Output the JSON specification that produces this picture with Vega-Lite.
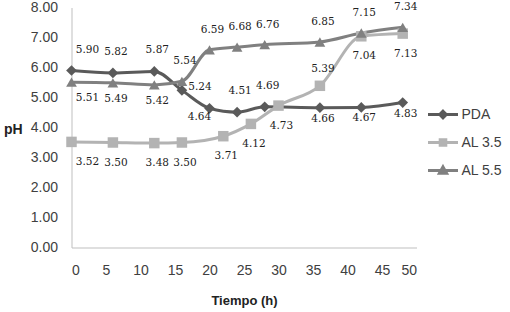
{
  "$schema": "https://vega.github.io/schema/vega-lite/v6.json",
  "width": 345,
  "height": 240,
  "autosize": {"type": "none"},
  "padding": {"left": 71.5, "top": 7.5, "right": 93.5, "bottom": 64.5},
  "background": "white",
  "config": {"view": {"stroke": null}, "font": "Liberation Sans"},
  "data": {
    "values": [
      {"t": 0, "pH": 5.90, "serie": "PDA"},
      {"t": 6, "pH": 5.82, "serie": "PDA"},
      {"t": 12, "pH": 5.87, "serie": "PDA"},
      {"t": 16, "pH": 5.24, "serie": "PDA"},
      {"t": 20, "pH": 4.64, "serie": "PDA"},
      {"t": 24, "pH": 4.51, "serie": "PDA"},
      {"t": 28, "pH": 4.69, "serie": "PDA"},
      {"t": 36, "pH": 4.66, "serie": "PDA"},
      {"t": 42, "pH": 4.67, "serie": "PDA"},
      {"t": 48, "pH": 4.83, "serie": "PDA"},
      {"t": 0, "pH": 3.52, "serie": "AL 3.5"},
      {"t": 6, "pH": 3.50, "serie": "AL 3.5"},
      {"t": 12, "pH": 3.48, "serie": "AL 3.5"},
      {"t": 16, "pH": 3.50, "serie": "AL 3.5"},
      {"t": 22, "pH": 3.71, "serie": "AL 3.5"},
      {"t": 26, "pH": 4.12, "serie": "AL 3.5"},
      {"t": 30, "pH": 4.73, "serie": "AL 3.5"},
      {"t": 36, "pH": 5.39, "serie": "AL 3.5"},
      {"t": 42, "pH": 7.04, "serie": "AL 3.5"},
      {"t": 48, "pH": 7.13, "serie": "AL 3.5"},
      {"t": 0, "pH": 5.51, "serie": "AL 5.5"},
      {"t": 6, "pH": 5.49, "serie": "AL 5.5"},
      {"t": 12, "pH": 5.42, "serie": "AL 5.5"},
      {"t": 16, "pH": 5.54, "serie": "AL 5.5"},
      {"t": 20, "pH": 6.59, "serie": "AL 5.5"},
      {"t": 24, "pH": 6.68, "serie": "AL 5.5"},
      {"t": 28, "pH": 6.76, "serie": "AL 5.5"},
      {"t": 36, "pH": 6.85, "serie": "AL 5.5"},
      {"t": 42, "pH": 7.15, "serie": "AL 5.5"},
      {"t": 48, "pH": 7.34, "serie": "AL 5.5"}
    ]
  },
  "encoding": {
    "x": {
      "field": "t", "type": "quantitative",
      "scale": {"domain": [0, 50], "nice": false},
      "axis": {
        "values": [0, 5, 10, 15, 20, 25, 30, 35, 40, 45, 50],
        "grid": false, "ticks": false, "domainColor": "#bfbfbf", "domainWidth": 1,
        "labelFont": "Liberation Sans", "labelFontSize": 14, "labelColor": "#404040", "labelPadding": 16,
        "title": "Tiempo (h)", "titleFont": "Liberation Sans", "titleFontSize": 13, "titleFontWeight": "bold", "titleColor": "#222222",
        "titleY": 52.5, "titleBaseline": "middle"
      }
    },
    "y": {
      "field": "pH", "type": "quantitative",
      "scale": {"domain": [0, 8], "nice": false},
      "axis": {
        "values": [0, 1, 2, 3, 4, 5, 6, 7, 8], "format": ".2f",
        "grid": false, "ticks": false, "domainColor": "#bfbfbf", "domainWidth": 1,
        "labelFont": "Liberation Sans", "labelFontSize": 14, "labelColor": "#404040", "labelPadding": 14,
        "title": "pH", "titleAngle": 0, "titleFont": "Liberation Sans", "titleFontSize": 14, "titleFontWeight": "bold", "titleColor": "#222222",
        "titleX": -68, "titleY": 121.5, "titleAlign": "left", "titleBaseline": "middle"
      }
    },
    "color": {
      "field": "serie", "type": "nominal",
      "scale": {"domain": ["PDA", "AL 3.5", "AL 5.5"], "range": ["#5a5a5a", "#b3b3b3", "#808080"]},
      "legend": {
        "title": null, "orient": "none", "legendX": 360, "legendY": 95.5, "padding": 0,
        "symbolSize": 400, "rowPadding": 7, "labelOffset": 7, "symbolOpacity": 1, "symbolStrokeWidth": 3,
        "labelFont": "Liberation Sans", "labelFontSize": 14, "labelColor": "#404040"
      }
    }
  },
  "layer": [
    {
      "mark": {"type": "line", "interpolate": "monotone", "strokeWidth": 3}
    },
    {
      "mark": {"type": "point", "filled": false, "opacity": 0, "size": 10},
      "encoding": {
        "shape": {
          "field": "serie", "type": "nominal",
          "scale": {
            "domain": ["PDA", "AL 3.5", "AL 5.5"],
            "range": [
              "M-1.5,0H1.5M0,-0.33L0.33,0L0,0.33L-0.33,0Z",
              "M-1.5,0H1.5M-0.28,-0.28H0.28V0.28H-0.28Z",
              "M-1.5,0H1.5M0,-0.36L0.36,0.28H-0.36Z"
            ]
          },
          "legend": {
            "title": null, "orient": "none", "legendX": 360, "legendY": 95.5, "padding": 0,
            "symbolSize": 400, "rowPadding": 7, "labelOffset": 7, "symbolOpacity": 1, "symbolStrokeWidth": 3,
            "labelFont": "Liberation Sans", "labelFontSize": 14, "labelColor": "#404040"
          }
        }
      }
    },
    {
      "transform": [{"filter": {"field": "serie", "equal": "PDA"}}],
      "mark": {"type": "point", "shape": "diamond", "filled": true, "opacity": 1, "size": 115}
    },
    {
      "transform": [{"filter": {"field": "serie", "equal": "AL 3.5"}}],
      "mark": {"type": "point", "shape": "square", "filled": true, "opacity": 1, "size": 110}
    },
    {
      "transform": [{"filter": {"field": "serie", "equal": "AL 5.5"}}],
      "mark": {"type": "point", "shape": "triangle-up", "filled": true, "opacity": 1, "size": 115}
    },
    {
      "mark": {
        "type": "text", "font": "DejaVu Serif", "fontSize": 10.5, "color": "#222222", "baseline": "middle", "align": "center",
        "dx": {"expr": "datum.t == 0 ? 16 : (datum.serie == 'PDA' && datum.t == 16) ? 18 : (datum.serie == 'PDA' && datum.t == 20) ? -10 : 3"},
        "dy": {"expr": "(datum.serie == 'PDA' && datum.t == 16) ? -3 : (datum.serie == 'PDA' && datum.t == 20) ? 9 : (datum.serie == 'PDA' && datum.t >= 36) ? 11 : datum.serie == 'PDA' ? -21 : (datum.serie == 'AL 3.5' && datum.t == 36) ? -17 : datum.serie == 'AL 3.5' ? 20 : (datum.serie == 'AL 5.5' && datum.t <= 12) ? 16 : -20"}
      },
      "encoding": {
        "text": {"field": "pH", "type": "quantitative", "format": ".2f"},
        "color": {"value": "#222222"}
      }
    }
  ]
}
